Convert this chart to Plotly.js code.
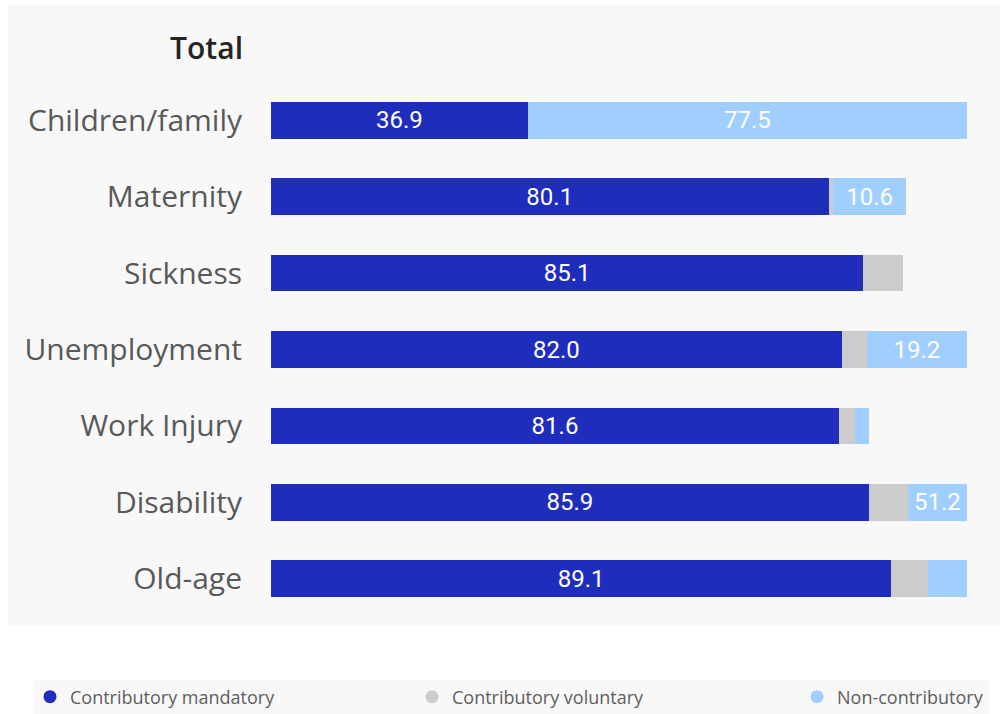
<!DOCTYPE html>
<html>
<head>
<meta charset="utf-8">
<script src="https://cdn.plot.ly/plotly-3.0.1.min.js"></script>
<style>html,body{margin:0;padding:0;background:#fff;}#chart{width:1002px;height:714px;}</style>
</head>
<body>
<div id="chart"></div>
<script>
// ---- data ----
const categories = ["Children/family", "Maternity", "Sickness", "Unemployment", "Work Injury", "Disability", "Old-age"];
const mandatory    = [36.9, 80.1, 85.1, 82.0, 81.6, 85.9, 89.1];
const voluntary    = [0.0, 0.6, 5.7, 3.6, 2.3, 5.6, 5.3];
const noncontrib   = [77.5, 10.6, 0.0, 19.2, 2.0, 51.2, 10.0];
const seriesNames  = ["Contributory mandatory", "Contributory voluntary", "Non-contributory"];
const seriesColors = ["#1F2DBD", "#CCCCCC", "#A0CFFF"];
const axisMax = 100;

// stack series, clamping each visible segment to the axis range (as the source chart does)
const series = [mandatory, voluntary, noncontrib];
const cum = categories.map(() => 0);
const traces = [];
const fmt = v => v > 0 ? v.toFixed(1) : "";
series.forEach((vals, si) => {
  const shown = vals.map((v, i) => {
    const base = cum[i];
    const vis = Math.max(0, Math.min(v, axisMax - base));
    cum[i] += v;
    return vis;
  });
  traces.push({
    type: "bar", orientation: "h",
    y: categories, x: shown,
    name: seriesNames[si],
    marker: {color: seriesColors[si], line: {width: 0}},
    text: si === 1 ? vals.map(() => "") : vals.map(fmt),
    textposition: "inside", insidetextanchor: "middle", textangle: 0,
    textfont: {family: "Roboto", size: 24, color: "#FFFFFF"},
    showlegend: false, hoverinfo: "skip"
  });
});
// legend entries (circle markers)
const legendX = [50, 432, 817];
seriesNames.forEach((n, si) => {
  traces.push({
    type: "scatter", mode: "markers", x: [null], y: [null],
    name: n, legend: si === 0 ? "legend" : "legend" + (si + 1),
    marker: {symbol: "circle", size: 13, color: seriesColors[si]},
    showlegend: true
  });
});

const W = 1002, H = 714;
const L = 271, R = 35, T = 82, B = 97;
const pw = W - L - R, ph = H - T - B;
const px = x => (x - L) / pw;
const py = y => (H - B - y) / ph;

const legendBase = {
  orientation: "h", bgcolor: "rgba(0,0,0,0)", borderwidth: 0,
  font: {family: "Open Sans", size: 18, color: "#605E5C"},
  xanchor: "left", yanchor: "middle", y: py(697), itemclick: false, itemdoubleclick: false
};

const layout = {
  width: W, height: H,
  margin: {l: L, r: R, t: T, b: B, pad: 0, autoexpand: false},
  paper_bgcolor: "#FFFFFF", plot_bgcolor: "rgba(0,0,0,0)",
  barmode: "stack", bargap: 0.52,
  uniformtext: {mode: "hide", minsize: 24},
  font: {family: "Open Sans"},
  title: {
    text: "Total", xref: "container", yref: "container",
    x: 243 / W, xanchor: "right", y: 1 - 48 / H, yanchor: "middle",
    font: {family: "Open Sans", size: 30, weight: 600, color: "#252423"}
  },
  xaxis: {range: [0, axisMax], visible: false, fixedrange: true},
  yaxis: {
    type: "category", categoryorder: "array", categoryarray: categories,
    autorange: "reversed", showgrid: false, zeroline: false, showline: false,
    ticks: "", ticklabelstandoff: 28,
    tickfont: {family: "Open Sans", size: 30, color: "#595959"}, fixedrange: true
  },
  shapes: [
    {type: "rect", xref: "paper", yref: "paper", layer: "below",
     x0: px(8), x1: px(1000), y0: py(626), y1: py(5),
     fillcolor: "#F8F8F8", line: {width: 0}},
    {type: "rect", xref: "paper", yref: "paper", layer: "below",
     x0: px(33), x1: px(989), y0: py(716), y1: py(680),
     fillcolor: "#F8F8F8", line: {width: 0}}
  ],
  legend:  Object.assign({}, legendBase, {x: px(legendX[0] - 20)}),
  legend2: Object.assign({}, legendBase, {x: px(legendX[1] - 20)}),
  legend3: Object.assign({}, legendBase, {x: px(legendX[2] - 20)}),
  showlegend: true
};

Plotly.newPlot("chart", traces, layout, {displayModeBar: false});
</script>
</body>
</html>
